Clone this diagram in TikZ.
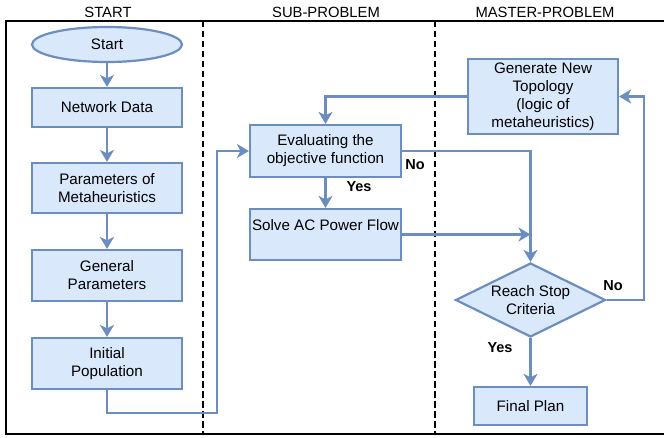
\documentclass[tikz,border=0pt]{standalone}
\usepackage{fontspec}
\setmainfont{Liberation Sans}
\usetikzlibrary{shapes.geometric,arrows.meta}
\definecolor{boxfill}{HTML}{DAE8FC}
\definecolor{boxline}{HTML}{6C8EBF}
\tikzset{
  every node/.style={font=\fontsize{15.2}{18}\selectfont},
  procbox/.style={draw=boxline, fill=boxfill, line width=2.2pt, align=center, inner sep=2pt, minimum width=150pt},
  startbox/.style={procbox, ellipse, minimum height=35pt},
  decbox/.style={draw=boxline, fill=boxfill, line width=2.2pt, align=center, diamond, aspect=2, inner sep=0pt, minimum width=150pt, minimum height=74pt},
  arr/.style={draw=boxline, line width=2.4pt, -{Stealth[length=12pt,width=14pt,inset=3.5pt]}},
  lanesep/.style={draw=black, line width=2.8pt, dash pattern=on 6.5pt off 3.5pt},
  lbl/.style={font=\fontsize{14.5}{16}\selectfont\bfseries},
  hdr/.style={font=\fontsize{14.8}{16}\selectfont}
}
\begin{document}
\begin{tikzpicture}[x=1pt,y=-1pt]
\useasboundingbox (0,0) rectangle (664,438);
% frame
\draw[black, line width=1.6pt] (664,21) -- (6,21) -- (6,434) -- (664,434);
% lane headers
\node[hdr] (h1) at (108,12) {START};
\node[hdr] (h2) at (326,12) {SUB-PROBLEM};
\node[hdr] (h3) at (545,12) {MASTER-PROBLEM};
% lane separators
\coordinate (s1t) at (203,21); \coordinate (s1b) at (203,434);
\coordinate (s2t) at (435,21); \coordinate (s2b) at (435,434);
\draw[lanesep] (s1t) -- (s1b);
\draw[lanesep] (s2t) -- (s2b);
% nodes
\node[startbox] (start) at (107,44.5) {Start};
\node[procbox, minimum height=39pt] (net) at (107,107.5) {Network Data};
\node[procbox, minimum height=50pt] (par) at (107,188) {Parameters of\\Metaheuristics};
\node[procbox, minimum height=51pt] (gen) at (107,275.5) {General\\Parameters};
\node[procbox, minimum height=51pt] (ini) at (107,363.5) {Initial\\Population};
\node[procbox, minimum width=151pt, minimum height=52pt] (eval) at (325.5,151) {Evaluating the\\objective function};
\node[procbox, minimum height=51pt] (solve) at (325.5,234.5) {Solve AC Power Flow\\[2pt]~};
\node[procbox, minimum height=75pt] (topo) at (543,96.5) {Generate New\\Topology\\(logic of\\metaheuristics)};
\node[decbox] (dec) at (530.5,300) {Reach Stop\\Criteria};
\node[procbox, minimum width=113pt, minimum height=38pt] (final) at (530.5,406) {Final Plan};
% connectors
\draw[arr] (start) -- (net);
\draw[arr] (net) -- (par);
\draw[arr] (par) -- (gen);
\draw[arr] (gen) -- (ini);
\coordinate (c1) at (217,413);
\draw[arr] (ini.south) |- (c1) |- (eval.west);
\draw[arr] (topo.west) -| (eval.north);
\draw[arr] (eval) -- (solve);
\draw[arr] (eval.east) -| (dec.north);
\coordinate (j1) at (dec.north |- solve.east);
\draw[arr] (solve.east) -- (j1);
\coordinate (c2) at (644,300);
\draw[arr] (dec.east) -- (c2) |- (topo.east);
\draw[arr] (dec.south) -- (final.north);
% labels
\node[lbl] (yes1) at (359,187) {Yes};
\node[lbl] (no1) at (415,165) {No};
\node[lbl] (no2) at (613,286) {No};
\node[lbl] (yes2) at (500,348) {Yes};
\end{tikzpicture}
\end{document}
